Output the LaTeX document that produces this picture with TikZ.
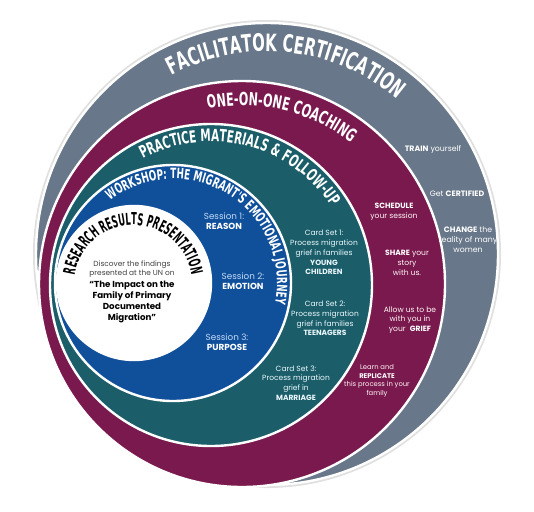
\documentclass[tikz,border=0pt]{standalone}
\usepackage{fontspec}
\usetikzlibrary{decorations.text}
\setmainfont{Poppins}
\newfontfamily\ringfont[FakeStretch=0.62]{DejaVu Sans}
\newfontfamily\presfont[FakeStretch=0.5]{DejaVu Sans}
\definecolor{certgray}{RGB}{104,119,137}
\definecolor{coachred}{RGB}{122,25,78}
\definecolor{practeal}{RGB}{27,94,105}
\definecolor{workblue}{RGB}{16,80,155}
\definecolor{sessionblue}{RGB}{196,218,246}
\tikzset{
  ring/.style={draw=white, line width=2.4pt},
  ringtext/.style={decorate, decoration={text along path, text align=center}},
  note/.style={align=center, inner sep=0pt},
  gtxt/.style={note, text=white, font=\fontsize{7.8}{10}\selectfont},
  mtxt/.style={note, text=white!85!pink, font=\fontsize{7.6}{9.8}\selectfont},
  ttxt/.style={note, text=white!92!cyan, font=\fontsize{7.5}{9.75}\selectfont},
  btxt/.style={note, text=sessionblue, font=\fontsize{8.8}{10}\selectfont},
  wtxt/.style={note, text=black!75, font=\fontsize{7.4}{9}\selectfont}
}
\begin{document}
\begin{tikzpicture}[x=1pt,y=1pt]
  \useasboundingbox (0,0) rectangle (534,-511);
  \fill[white] (0,0) rectangle (534,-511);
  \draw[black!12, line width=4pt] (267,-254) circle (232);
  \filldraw[ring, fill=certgray] (267,-254) circle (231);
  \filldraw[ring, fill=coachred] (242,-284) circle (203);
  \filldraw[ring, fill=practeal] (211,-285) circle (161);
  \filldraw[ring, fill=workblue] (173,-283) circle (118);
  \filldraw[ring, fill=white] (134,-283) circle (77);

  \path[ringtext, decoration={text={|\ringfont\bfseries\fontsize{24}{24}\selectfont\color{white}|FACILITATOK CERTIFICATION}}]
    (267,-254) ++(154:202.5) arc[start angle=154, end angle=14, radius=202.5];
  \path[ringtext, decoration={text={|\ringfont\bfseries\fontsize{18}{18}\selectfont\color{white}|ONE-ON-ONE COACHING}}]
    (242,-284) ++(146.7:178.5) arc[start angle=146.7, end angle=6.7, radius=178.5];
  \path[ringtext, decoration={text={|\ringfont\bfseries\fontsize{16.8}{16.8}\selectfont\color{white}|PRACTICE MATERIALS {\&} FOLLOW-UP}}]
    (211,-285) ++(145.7:143.5) arc[start angle=145.7, end angle=5.7, radius=143.5];
  \path[ringtext, decoration={text={|\ringfont\bfseries\fontsize{14.2}{14.2}\selectfont\color{white}|WORKSHOP: THE MIGRANT'S EMOTIONAL JOURNEY}}]
    (173,-283) ++(147.9:104) arc[start angle=147.9, end angle=-32.1, radius=104];
  \path[ringtext, decoration={text={|\presfont\bfseries\fontsize{16.5}{16.5}\selectfont\color{black}|RESEARCH RESULTS PRESENTATION}}]
    (133,-284) ++(180:59) arc[start angle=180, end angle=0, radius=59];

  \node[gtxt] (train) at (433,-150) {\textbf{TRAIN} yourself};
  \node[gtxt] (certified) at (457,-194) {Get \textbf{CERTIFIED}};
  \node[gtxt] (change) at (468,-240) {\textbf{CHANGE} the\\reality of many\\women};

  \node[mtxt] (schedule) at (394,-212) {\textbf{\textcolor{white}{SCHEDULE}}\\your session};
  \node[mtxt] (share) at (407,-263) {\textbf{\textcolor{white}{SHARE}} your\\story\\with us.};
  \node[mtxt] (grief) at (410,-320) {Allow us to be\\with you in\\your\ \ \textbf{\textcolor{white}{GRIEF}}};
  \node[mtxt, font=\fontsize{6.8}{8.7}\selectfont] (replicate) at (377,-381) {Learn and\\\textbf{\textcolor{white}{REPLICATE}}\\this process in your\\family};

  \node[ttxt] (young) at (324,-252.5) {Card Set 1:\\Process migration\\grief in families\\\textbf{YOUNG}\\\textbf{CHILDREN}};
  \node[ttxt] (teens) at (325,-318.5) {Card Set 2:\\Process migration\\grief in families\\\textbf{TEENAGERS}};
  \node[ttxt] (marriage) at (296,-383) {Card Set 3:\\Process migration\\grief in\\\textbf{MARRIAGE}};

  \node[btxt] (reason) at (224,-221) {Session 1:\\\textbf{\textcolor{white}{REASON}}};
  \node[btxt] (emotion) at (243,-281) {Session 2:\\\textbf{\textcolor{white}{EMOTION}}};
  \node[btxt] (purpose) at (227,-342) {Session 3:\\\textbf{\textcolor{white}{PURPOSE}}};

  \node[wtxt] (findings) at (132,-269.5) {Discover the findings\\presented at the UN on};
  \node[wtxt, text=black, font=\bfseries\fontsize{8.7}{11}\selectfont] (impact) at (132,-302) {“The Impact on the\\Family of Primary\\Documented\\Migration”};
\end{tikzpicture}
\end{document}
